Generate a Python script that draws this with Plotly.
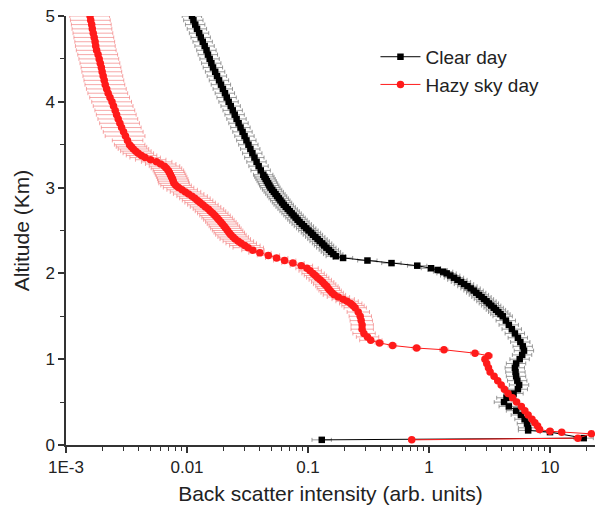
import plotly.graph_objects as go

# ---- Clear day (black): altitude (km) and back-scatter intensity (arb. units) ----
clear_alt = [5.00, 4.95, 4.90, 4.85, 4.80, 4.75, 4.70, 4.65, 4.60, 4.55,
             4.50, 4.45, 4.40, 4.35, 4.30, 4.25, 4.20, 4.15, 4.10, 4.05,
             4.00, 3.95, 3.90, 3.85, 3.80, 3.75, 3.70, 3.65, 3.60, 3.55,
             3.50, 3.45, 3.40, 3.35, 3.30, 3.25, 3.20, 3.15, 3.125, 3.10,
             3.075, 3.05, 3.025, 3.00, 2.975, 2.95, 2.925, 2.90, 2.875, 2.85,
             2.825, 2.80, 2.775, 2.75, 2.725, 2.70, 2.675, 2.65, 2.625, 2.60,
             2.575, 2.55, 2.525, 2.50, 2.475, 2.45, 2.425, 2.40, 2.375, 2.35,
             2.325, 2.30, 2.275, 2.25, 2.225, 2.20, 2.18, 2.15, 2.12, 2.09,
             2.06, 2.04, 2.02, 2.00, 1.975, 1.95, 1.925, 1.90, 1.875, 1.85,
             1.825, 1.80, 1.775, 1.75, 1.725, 1.70, 1.675, 1.65, 1.625, 1.60,
             1.575, 1.55, 1.525, 1.50, 1.45, 1.40, 1.35, 1.30, 1.25, 1.20,
             1.15, 1.10, 1.05, 1.00, 0.95, 0.90, 0.85, 0.80, 0.75, 0.70,
             0.65, 0.60, 0.55, 0.50, 0.45, 0.40, 0.35, 0.30, 0.25, 0.20,
             0.17, 0.15, 0.08, 0.06]
clear_val = [0.0110, 0.0113, 0.0117, 0.0121, 0.0126, 0.0130, 0.0135, 0.0140, 0.0145, 0.0149,
             0.0154, 0.0159, 0.0164, 0.0171, 0.0177, 0.0184, 0.0191, 0.0198, 0.0206, 0.0213,
             0.0221, 0.0230, 0.0239, 0.0248, 0.0257, 0.0267, 0.0277, 0.0288, 0.0299, 0.0310,
             0.0322, 0.0334, 0.0347, 0.0361, 0.0376, 0.0391, 0.0407, 0.0427, 0.0437, 0.0447,
             0.0457, 0.0468, 0.0479, 0.0490, 0.0506, 0.0522, 0.0539, 0.0556, 0.0574, 0.0592,
             0.0611, 0.0631, 0.0655, 0.0680, 0.0706, 0.0733, 0.0761, 0.0790, 0.0820, 0.0851,
             0.0889, 0.0927, 0.0968, 0.101, 0.106, 0.110, 0.115, 0.120, 0.125, 0.131,
             0.136, 0.142, 0.149, 0.155, 0.162, 0.170, 0.195, 0.31, 0.49, 0.80,
             1.04, 1.18, 1.31, 1.40, 1.50, 1.61, 1.72, 1.84, 1.95, 2.08,
             2.21, 2.34, 2.46, 2.59, 2.72, 2.85, 2.99, 3.13, 3.27, 3.43,
             3.58, 3.74, 3.90, 4.07, 4.32, 4.57, 4.84, 5.13, 5.43, 5.69,
             5.96, 6.10, 5.89, 5.62, 5.25, 5.13, 5.19, 5.25, 5.37, 5.56,
             5.43, 5.00, 4.37, 4.17, 4.57, 5.25, 5.75, 6.17, 6.46, 6.60,
             6.60, 10.0, 19.0, 0.13]

# ---- Hazy sky day (red) ----
hazy_alt = [5.00, 4.95, 4.90, 4.85, 4.80, 4.75, 4.70, 4.65, 4.60, 4.55,
            4.50, 4.45, 4.40, 4.35, 4.30, 4.25, 4.20, 4.15, 4.10, 4.05,
            4.00, 3.95, 3.90, 3.85, 3.80, 3.75, 3.70, 3.65, 3.60, 3.55,
            3.50, 3.475, 3.45, 3.425, 3.40, 3.375, 3.35, 3.325, 3.30, 3.275,
            3.25, 3.225, 3.20, 3.175, 3.15, 3.125, 3.10, 3.075, 3.05, 3.025,
            3.00, 2.975, 2.95, 2.925, 2.90, 2.875, 2.85, 2.825, 2.80, 2.775,
            2.75, 2.725, 2.70, 2.675, 2.65, 2.625, 2.60, 2.575, 2.55, 2.525,
            2.50, 2.475, 2.45, 2.425, 2.40, 2.375, 2.35, 2.325, 2.30, 2.27,
            2.24, 2.21, 2.18, 2.15, 2.12, 2.09, 2.06, 2.03, 2.00, 1.975,
            1.95, 1.925, 1.90, 1.875, 1.85, 1.825, 1.80, 1.775, 1.75, 1.725,
            1.70, 1.675, 1.65, 1.625, 1.60, 1.55, 1.50, 1.45, 1.40, 1.35,
            1.30, 1.26, 1.22, 1.19, 1.16, 1.13, 1.11, 1.07, 1.04, 1.00,
            0.95, 0.90, 0.85, 0.80, 0.75, 0.70, 0.65, 0.60, 0.55, 0.50,
            0.45, 0.40, 0.35, 0.30, 0.26, 0.22, 0.18, 0.16, 0.15, 0.13,
            0.08, 0.06]
hazy_val = [0.00158, 0.00160, 0.00163, 0.00165, 0.00168, 0.00171, 0.00174, 0.00176, 0.00179, 0.00184,
            0.00188, 0.00192, 0.00196, 0.00199, 0.00203, 0.00207, 0.00211, 0.00217, 0.00223, 0.00231,
            0.00240, 0.00247, 0.00255, 0.00262, 0.00270, 0.00279, 0.00288, 0.00299, 0.00310, 0.00322,
            0.00335, 0.00347, 0.00360, 0.00377, 0.00395, 0.00420, 0.00450, 0.00500, 0.00560, 0.00605,
            0.00650, 0.00675, 0.00700, 0.00715, 0.00730, 0.00745, 0.00760, 0.00770, 0.00780, 0.00810,
            0.00850, 0.00910, 0.00970, 0.0103, 0.0110, 0.0116, 0.0122, 0.0128, 0.0135, 0.0142,
            0.0150, 0.0156, 0.0163, 0.0170, 0.0177, 0.0183, 0.0190, 0.0196, 0.0203, 0.0209,
            0.0216, 0.0223, 0.0230, 0.0240, 0.0250, 0.0265, 0.0280, 0.0300, 0.0320, 0.0350,
            0.0400, 0.0470, 0.0550, 0.0640, 0.0750, 0.0880, 0.0980, 0.104, 0.110, 0.115,
            0.120, 0.126, 0.132, 0.137, 0.143, 0.147, 0.152, 0.158, 0.165, 0.178,
            0.195, 0.210, 0.225, 0.235, 0.245, 0.260, 0.270, 0.275, 0.280, 0.280,
            0.290, 0.310, 0.330, 0.390, 0.500, 0.790, 1.33, 2.40, 3.10, 2.90,
            3.00, 3.10, 3.20, 3.45, 3.70, 3.95, 4.20, 4.50, 4.90, 5.30,
            5.80, 6.20, 6.60, 7.10, 7.50, 7.90, 8.20, 10.0, 12.5, 22.0,
            17.0, 0.72]

assert len(clear_alt) == len(clear_val)
assert len(hazy_alt) == len(hazy_val)

# error bar size bands: (lowest altitude of band, +%, -%)
clear_err_bands = [(0.0, 20, 17)]
hazy_err_bands = [(3.6, 45, 32), (2.3, 34, 25), (1.2, 24, 19), (1.04, 8, 8), (0.0, 0, 0)]

x_tick_vals = [0.001, 0.01, 0.1, 1, 10]
x_tick_text = ["1E-3", "0.01", "0.1", "1", "10"]
y_tick_vals = [0, 1, 2, 3, 4, 5]


def band_errors(alts, vals, bands):
    plus, minus = [], []
    for a, v in zip(alts, vals):
        for lo, p, m in bands:
            if a >= lo:
                plus.append(v * p / 100.0)
                minus.append(v * m / 100.0)
                break
    return plus, minus


cp, cm = band_errors(clear_alt, clear_val, clear_err_bands)
hp, hm = band_errors(hazy_alt, hazy_val, hazy_err_bands)

fig = go.Figure()
fig.add_trace(go.Scatter(
    x=clear_val, y=clear_alt, mode="lines+markers", name="Clear day",
    line=dict(color="black", width=1),
    marker=dict(symbol="square", size=6.5, color="black"),
    error_x=dict(type="data", array=cp, arrayminus=cm, color="rgba(120,120,120,0.75)",
                 thickness=1, width=2),
))
fig.add_trace(go.Scatter(
    x=hazy_val, y=hazy_alt, mode="lines+markers", name="Hazy sky day",
    line=dict(color="#ff1a1a", width=1),
    marker=dict(symbol="circle", size=7.5, color="#ff1a1a"),
    error_x=dict(type="data", array=hp, arrayminus=hm, color="rgba(240,110,110,0.6)",
                 thickness=1, width=2),
))

minor_x = [m * 10 ** e for e in range(-3, 2) for m in range(2, 10)]

fig.update_layout(
    width=595, height=510,
    margin=dict(l=66, r=0, t=16, b=65),
    paper_bgcolor="white", plot_bgcolor="white",
    font=dict(family="Liberation Sans, Arial, sans-serif", size=17, color="#222"),
    showlegend=True,
    legend=dict(x=0.585, y=0.949, xanchor="left", yanchor="top",
                bgcolor="rgba(0,0,0,0)", font=dict(size=19, color="#222"),
                tracegroupgap=2, itemwidth=40),
    xaxis=dict(
        type="log", range=[-3, 1.372],
        tickvals=x_tick_vals, ticktext=x_tick_text,
        ticks="outside", ticklen=6, tickwidth=1.5, tickcolor="#333",
        showline=True, linecolor="#333", linewidth=1.5, mirror=False,
        showgrid=False, zeroline=False,
        minor=dict(tickvals=minor_x, ticks="outside", ticklen=4, tickwidth=1.2,
                   tickcolor="#333", showgrid=False),
        title=dict(text="Back scatter intensity (arb. units)", font=dict(size=21), standoff=10),
        tickfont=dict(size=17),
    ),
    yaxis=dict(
        range=[0, 5], tickvals=y_tick_vals,
        ticks="outside", ticklen=6, tickwidth=1.5, tickcolor="#333",
        showline=True, linecolor="#333", linewidth=1.5, mirror=False,
        showgrid=False, zeroline=False,
        minor=dict(dtick=0.5, ticks="outside", ticklen=4, tickwidth=1.2,
                   tickcolor="#333", showgrid=False),
        title=dict(text="Altitude (Km)", font=dict(size=21), standoff=10),
        tickfont=dict(size=17),
    ),
)

fig.write_html("out.html")
